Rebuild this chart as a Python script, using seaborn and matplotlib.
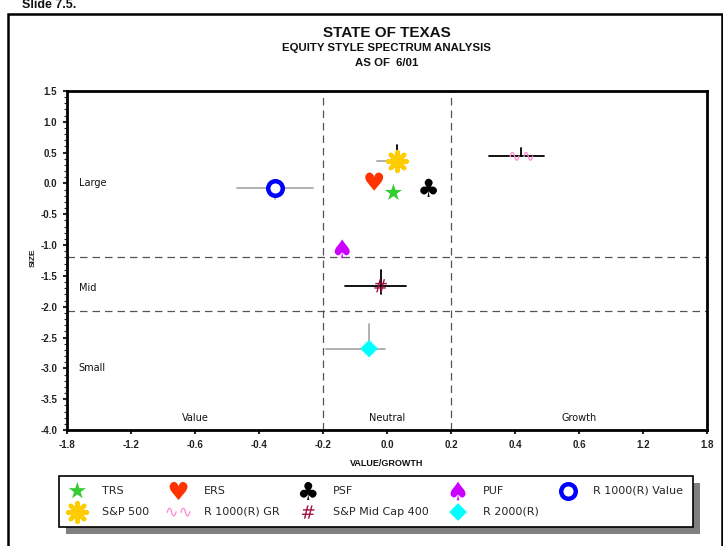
import numpy as np
import matplotlib
matplotlib.use("Agg")
import matplotlib.pyplot as plt
import matplotlib.patheffects as pe
from matplotlib.patches import Rectangle
from matplotlib.ticker import MultipleLocator
import seaborn as sns

nan = np.nan

# fund / index positions on the style map
names = ["TRS", "ERS", "PSF", "PUF", "R 1000(R) Value",
         "S&P 500", "R 1000(R) GR", "S&P Mid Cap 400", "R 2000(R)"]
value_growth = [0.02, -0.04, 0.13, -0.14, -0.35, 0.03, 0.42, -0.02, -0.056]
size = [-0.15, 0.03, -0.07, -1.06, -0.07, 0.37, 0.44, -1.66, -2.68]

# range bars drawn through some of the indices (nan = no bar)
h_left = [nan, nan, nan, nan, -0.47, -0.03, 0.32, -0.13, -0.19]
h_right = [nan, nan, nan, nan, -0.23, 0.03, 0.49, 0.06, -0.005]
v_top = [nan, nan, nan, nan, -0.07, 0.62, 0.58, -1.40, -2.28]
v_bottom = [nan, nan, nan, nan, -0.26, 0.37, 0.44, -1.79, -2.68]

x_ticks = [-1.8, -1.2, -0.6, -0.4, -0.2, 0.0, 0.2, 0.4, 0.6, 1.2, 1.8]
y_ticks = [1.5, 1.0, 0.5, 0.0, -0.5, -1.0, -1.5, -2.0, -2.5, -3.0, -3.5, -4.0]
style_cuts = [-0.2, 0.2]
size_cuts = [-1.2, -2.07]

markers = ["*", "$\u2665$", "$\u2663$", "$\u2660$", "o",
           (8, 2, 0), "$\u223f\u223f$", r"$\#$", "D"]
colors = ["#33cc33", "#ff3300", "black", "#cc00ff", "#0000ff",
          "#ffcc00", "#ff88cc", "#a0103c", "#00ffff"]
sizes = [170, 170, 170, 180, 110, 190, 300, 90, 80]
h_colors = [None, None, None, None, "#aaaaaa", "#aaaaaa", "black", "black", "#aaaaaa"]
v_colors = [None, None, None, None, "#aaaaaa", "black", "black", "black", "#aaaaaa"]

sns.set_style("white")
plt.rcParams["font.family"] = ["DejaVu Sans"]

fig = plt.figure(figsize=(7.23, 5.46), dpi=100)
ax = fig.add_axes([67 / 723, 1 - 430 / 546, 640 / 723, 339 / 546])

# range bars
for i in range(len(names)):
    if not np.isnan(h_left[i]):
        ax.plot([h_left[i], h_right[i]], [size[i], size[i]], color=h_colors[i], lw=1.3, zorder=2)
    if not np.isnan(v_top[i]):
        ax.plot([value_growth[i], value_growth[i]], [v_bottom[i], v_top[i]], color=v_colors[i], lw=1.3, zorder=2)

for i, name in enumerate(names):
    kw = dict(marker=markers[i], s=sizes[i], ax=ax, label=name, zorder=4)
    if markers[i] == "o":
        kw.update(facecolor="white", edgecolor=colors[i], linewidth=3.2)
    elif markers[i] == (8, 2, 0):
        kw.update(color=colors[i], linewidth=3)
    else:
        kw.update(color=colors[i], edgecolor="none")
    sns.scatterplot(x=[value_growth[i]], y=[size[i]], **kw)

# piecewise scale so the value/growth ticks sit evenly apart
idx = np.arange(len(x_ticks), dtype=float)
ax.set_xscale("function", functions=(lambda v: np.interp(v, x_ticks, idx),
                                     lambda t: np.interp(t, idx, x_ticks)))
ax.set_xlim(-1.8, 1.8)
ax.set_ylim(-4.0, 1.5)
ax.set_xticks(x_ticks, labels=[f"{t:.1f}" for t in x_ticks])
ax.set_yticks(y_ticks, labels=[f"{t:.1f}" for t in y_ticks])
ax.yaxis.set_minor_locator(MultipleLocator(0.1))
ax.xaxis.set_minor_locator(plt.NullLocator())
ax.tick_params(axis="both", which="major", direction="out", length=3, width=1.5,
               labelsize=7, pad=4, bottom=True, left=True)
ax.tick_params(axis="y", which="minor", direction="out", length=2, width=0.8, left=True)
for lab in ax.get_xticklabels() + ax.get_yticklabels():
    lab.set_fontfamily("Liberation Sans")
    lab.set_fontweight("bold")
    lab.set_color("#222222")
for sp in ax.spines.values():
    sp.set_linewidth(2)
    sp.set_color("black")

for c in style_cuts:
    ax.axvline(c, color="#555555", lw=0.9, ls=(0, (6, 4)), zorder=1)
for c in size_cuts:
    ax.axhline(c, color="#555555", lw=0.9, ls=(0, (6, 4)), zorder=1)

ax.set_xlabel("")
ax.set_ylabel("")

region_font = dict(fontsize=7, color="#111111")
ax.text(-1.69, 0.0, "Large", ha="left", va="center", **region_font)
ax.text(-1.69, -1.69, "Mid", ha="left", va="center", **region_font)
ax.text(-1.69, -3.0, "Small", ha="left", va="center", **region_font)
ax.text(-0.6, -3.8, "Value", ha="center", va="center", **region_font)
ax.text(0.0, -3.8, "Neutral", ha="center", va="center", **region_font)
ax.text(0.6, -3.8, "Growth", ha="center", va="center", **region_font)

bold = dict(family="Liberation Sans", fontweight="bold", color="#111111")
fig.text(387 / 723, 1 - 33 / 546, "STATE OF TEXAS", ha="center", va="center", fontsize=11, **bold)
fig.text(387 / 723, 1 - 48 / 546, "EQUITY STYLE SPECTRUM ANALYSIS", ha="center", va="center",
         fontsize=8.2, **bold)
fig.text(387 / 723, 1 - 63 / 546, "AS OF  6/01", ha="center", va="center", fontsize=8.2, **bold)
fig.text(33 / 723, 1 - 258 / 546, "SIZE", ha="center", va="center", rotation=90, fontsize=6, **bold)
fig.text(387 / 723, 1 - 463 / 546, "VALUE/GROWTH", ha="center", va="center", fontsize=6.5, **bold)
fig.text(22 / 723, 1 - 5 / 546, "Slide 7.5.", ha="left", va="center", fontsize=9, **bold)

# outer slide frame
fig.patches.append(Rectangle((8 / 723, -0.05), 714 / 723, 1.05 - 14 / 546,
                             transform=fig.transFigure, fill=False, edgecolor="black", lw=1.8))

# legend: reorder so it reads row-wise
handles, labels = ax.get_legend_handles_labels()
if ax.get_legend():
    ax.get_legend().remove()
order = [0, 5, 1, 6, 2, 7, 3, 8, 4]
leg = fig.legend([handles[k] for k in order], [labels[k] for k in order],
                 ncol=5, mode="expand", loc="lower left",
                 bbox_to_anchor=(59 / 723, 1 - 527 / 546, 634 / 723, 53 / 546),
                 frameon=True, fancybox=False, edgecolor="black", facecolor="white",
                 framealpha=1, fontsize=8,
                 handletextpad=1.5, handlelength=1.5, borderpad=0.9, labelspacing=1.0,
                 borderaxespad=0)
leg.get_frame().set_linewidth(1.2)
leg.get_frame().set_path_effects([pe.SimplePatchShadow(offset=(5, -5), shadow_rgbFace="#808080", alpha=1),
                                  pe.Normal()])

fig.savefig("out.png", dpi=100)
